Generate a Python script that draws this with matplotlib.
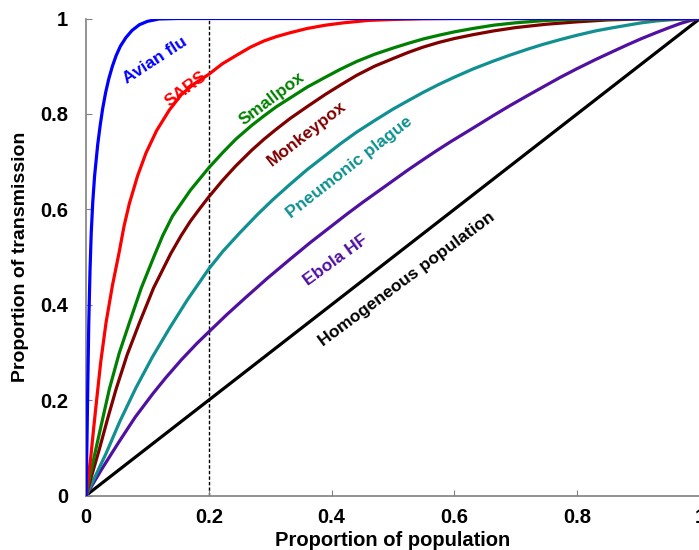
import matplotlib
matplotlib.use("Agg")
import matplotlib.pyplot as plt

plt.rcParams['font.family'] = ['Liberation Sans', 'DejaVu Sans']

# ---- data ----
avian_x = [0, 0.001, 0.002, 0.003, 0.0045, 0.0065, 0.0085, 0.011, 0.014, 0.019, 0.023,
           0.027, 0.032, 0.037, 0.043, 0.049, 0.056, 0.065, 0.075, 0.087, 0.1, 0.119,
           0.15, 1.0]
avian_y = [0, 0.07, 0.15, 0.24, 0.36, 0.47, 0.55, 0.615, 0.67, 0.735, 0.775,
           0.81, 0.845, 0.873, 0.90, 0.922, 0.942, 0.96, 0.975, 0.987, 0.994, 0.999,
           1.0, 1.0]

sars_x = [0, 0.004, 0.008, 0.012, 0.0163, 0.024, 0.0326, 0.043, 0.054, 0.062, 0.0706,
          0.084, 0.0977, 0.115, 0.1357, 0.155, 0.175, 0.2, 0.222, 0.244, 0.268,
          0.29, 0.31, 0.332, 0.36, 0.39, 0.42, 0.46, 0.5, 0.55, 0.6, 1.0]
sars_y = [0, 0.04, 0.083, 0.135, 0.188, 0.28, 0.362, 0.44, 0.51, 0.565, 0.612,
          0.67, 0.718, 0.765, 0.808, 0.84, 0.862, 0.883, 0.905, 0.922, 0.94,
          0.953, 0.962, 0.97, 0.979, 0.986, 0.991, 0.996, 0.998, 0.9995, 1.0, 1.0]

smallpox_x = [0, 0.008, 0.016, 0.027, 0.038, 0.054, 0.0706, 0.09, 0.111, 0.125, 0.141,
              0.17, 0.2, 0.222, 0.244, 0.27, 0.29, 0.31, 0.332, 0.36, 0.39, 0.415,
              0.441, 0.47, 0.5, 0.525, 0.549, 0.575, 0.6, 0.63, 0.664, 0.7, 0.75,
              0.8, 0.85, 0.9, 1.0]
smallpox_y = [0, 0.05, 0.097, 0.16, 0.223, 0.298, 0.362, 0.435, 0.502, 0.545, 0.586,
              0.64, 0.687, 0.718, 0.747, 0.776, 0.796, 0.815, 0.833, 0.856, 0.877, 0.894,
              0.91, 0.925, 0.938, 0.948, 0.957, 0.965, 0.972, 0.979, 0.986, 0.991, 0.996,
              0.998, 0.999, 1.0, 1.0]

monkeypox_x = [0, 0.01, 0.0217, 0.035, 0.049, 0.067, 0.087, 0.11, 0.138, 0.155, 0.17,
               0.185, 0.2, 0.222, 0.244, 0.27, 0.29, 0.31, 0.332, 0.36, 0.39, 0.415,
               0.441, 0.47, 0.5, 0.525, 0.549, 0.575, 0.6, 0.63, 0.664, 0.7, 0.75,
               0.8, 0.85, 0.9, 1.0]
monkeypox_y = [0, 0.045, 0.097, 0.16, 0.223, 0.295, 0.362, 0.435, 0.507, 0.545, 0.575,
               0.601, 0.626, 0.66, 0.691, 0.724, 0.747, 0.768, 0.79, 0.815, 0.841, 0.861,
               0.881, 0.9, 0.916, 0.929, 0.94, 0.95, 0.958, 0.966, 0.974, 0.981, 0.988,
               0.993, 0.997, 0.999, 1.0]

plague_x = [0, 0.015, 0.0326, 0.055, 0.081, 0.108, 0.1357, 0.165, 0.2, 0.223, 0.25,
            0.28, 0.305, 0.332, 0.36, 0.39, 0.415, 0.441, 0.47, 0.5, 0.525, 0.549,
            0.575, 0.6, 0.63, 0.664, 0.69, 0.72, 0.745, 0.773, 0.8, 0.83, 0.855,
            0.882, 0.905, 0.93, 0.95, 0.966, 0.985, 1.0]
plague_y = [0, 0.04, 0.088, 0.155, 0.225, 0.29, 0.35, 0.41, 0.475, 0.512, 0.55,
            0.59, 0.621, 0.652, 0.683, 0.713, 0.738, 0.762, 0.786, 0.81, 0.828, 0.845,
            0.862, 0.877, 0.894, 0.911, 0.923, 0.936, 0.946, 0.956, 0.965, 0.974, 0.98,
            0.986, 0.991, 0.995, 0.997, 0.9985, 0.9995, 1.0]

ebola_x = [0, 0.025, 0.054, 0.08, 0.1086, 0.13, 0.155, 0.18, 0.2, 0.23, 0.26,
           0.295, 0.332, 0.365, 0.397, 0.425, 0.45, 0.475, 0.5, 0.525, 0.549,
           0.57, 0.593, 0.63, 0.664, 0.69, 0.72, 0.745, 0.773, 0.8, 0.83, 0.855,
           0.882, 0.905, 0.93, 0.95, 0.969, 0.985, 1.0]
ebola_y = [0, 0.054, 0.113, 0.164, 0.213, 0.247, 0.284, 0.318, 0.343, 0.38, 0.415,
           0.455, 0.495, 0.53, 0.562, 0.59, 0.614, 0.637, 0.66, 0.683, 0.704,
           0.722, 0.741, 0.77, 0.797, 0.817, 0.839, 0.857, 0.877, 0.895, 0.914, 0.929,
           0.945, 0.958, 0.971, 0.981, 0.99, 0.996, 1.0]

homog_x = [0, 1.0]
homog_y = [0, 1.0]

tick_vals = [0, 0.2, 0.4, 0.6, 0.8, 1.0]
tick_labels = ["0", "0.2", "0.4", "0.6", "0.8", "1"]

# ---- figure ----
fig = plt.figure(figsize=(6.99, 5.5), dpi=100)
ax = fig.add_axes([86 / 699, 54.5 / 550, 614 / 699, 477 / 550])

lw = 2.3
ax.plot([0.2, 0.2], [0, 1], color='black', lw=1.0, ls=(0, (2.5, 1.5)), zorder=1)
ax.plot(homog_x, homog_y, color='black', lw=lw, zorder=2)
ax.plot(ebola_x, ebola_y, color='#5010a0', lw=lw, zorder=3)
ax.plot(plague_x, plague_y, color='#109090', lw=lw, zorder=4)
ax.plot(monkeypox_x, monkeypox_y, color='#800000', lw=lw, zorder=5)
ax.plot(smallpox_x, smallpox_y, color='#008000', lw=lw, zorder=6)
ax.plot(sars_x, sars_y, color='#ff0000', lw=lw, zorder=7)
ax.plot(avian_x, avian_y, color='#0000ff', lw=lw, zorder=8)

ax.set_xlim(0, 1)
ax.set_ylim(0, 1)
ax.set_xticks(tick_vals)
ax.set_xticklabels(tick_labels)
ax.set_yticks(tick_vals)
ax.set_yticklabels(tick_labels)

for s in ['top', 'right']:
    ax.spines[s].set_visible(False)
for s in ['left', 'bottom']:
    ax.spines[s].set_color('#808080')
    ax.spines[s].set_linewidth(1.2)
ax.tick_params(direction='in', length=4, color='#808080', labelsize=14.5)
ax.tick_params(axis='y', pad=13)
ax.tick_params(axis='x', pad=9)
for lab in ax.get_xticklabels() + ax.get_yticklabels():
    lab.set_fontweight('bold')

ax.set_xlabel("Proportion of population", fontsize=14.5, fontweight='bold', labelpad=3)
ax.set_ylabel("Proportion of transmission", fontsize=14, fontweight='bold', labelpad=8)

# curve labels placed in pixel coordinates
def pix_label(px, py, text, color, rot):
    x = (px - 86) / 614
    y = (495.5 - py) / 477
    ax.text(x, y, text, color=color, rotation=rot, fontsize=12.5, fontweight='bold',
            ha='center', va='center', rotation_mode='anchor', zorder=10)

pix_label(155, 60, "Avian flu", '#0000ff', 33)
pix_label(186, 89, "SARS", '#ff0000', 37)
pix_label(272, 99, "Smallpox", '#008000', 37)
pix_label(307, 134, "Monkeypox", '#800000', 38)
pix_label(349, 167, "Pneumonic plague", '#109090', 38)
pix_label(336, 260, "Ebola HF", '#5010a0', 36)
pix_label(407, 279, "Homogeneous population", 'black', 36.5)

fig.savefig("out.png", dpi=100)
